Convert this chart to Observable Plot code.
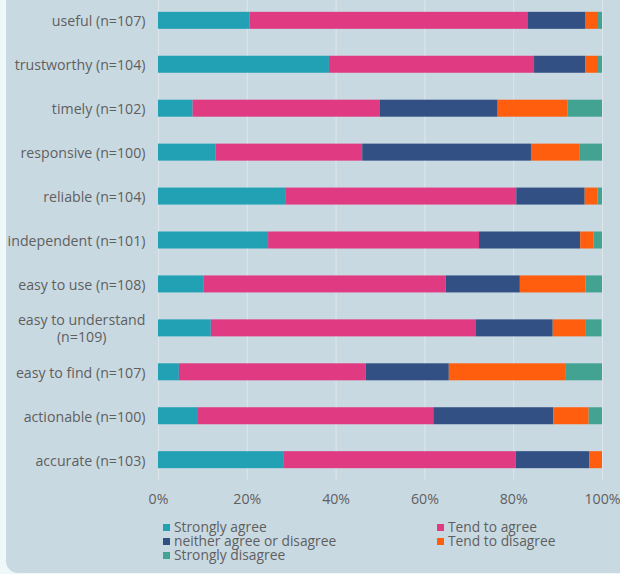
<!DOCTYPE html>
<html>
<head>
<meta charset="utf-8">
<script src="https://cdn.jsdelivr.net/npm/d3@7"></script>
<script src="https://cdn.jsdelivr.net/npm/@observablehq/plot@0.6"></script>
<style>
  html, body { margin: 0; padding: 0; }
  body { width: 620px; height: 574px; background: #eef8f8; position: relative; overflow: hidden; font-family: "Open Sans", sans-serif; }
  #panel { position: absolute; left: 6px; top: -20px; width: 650px; height: 593px; background: #c9d9e2; border-radius: 12px; }
  #chart { position: absolute; left: 0; top: 0; }
  #legend { position: absolute; left: 163px; top: 520px; display: grid; grid-template-columns: 274px 200px; font-size: 13.8px; line-height: 14.2px; color: #5f5f5f; }
  .item { display: flex; align-items: center; white-space: nowrap; height: 14.2px; }
  .sw { width: 7px; height: 7px; margin-right: 4px; display: inline-block; flex: none; }
</style>
</head>
<body>
<div id="panel"></div>
<div id="chart"></div>
<div id="legend"></div>
<script>
const categories = ["useful", "trustworthy", "timely", "responsive", "reliable", "independent", "easy to use", "easy to understand", "easy to find", "actionable", "accurate"];
const yLabels = ["useful (n=107)", "trustworthy (n=104)", "timely (n=102)", "responsive (n=100)", "reliable (n=104)", "independent (n=101)", "easy to use (n=108)", "easy to understand\n(n=109)", "easy to find (n=107)", "actionable (n=100)", "accurate (n=103)"];
const series = ["Strongly agree", "Tend to agree", "neither agree or disagree", "Tend to disagree", "Strongly disagree"];
const colors = ["#22a1b5", "#e03a82", "#325084", "#ff5e0f", "#43a393"];
const stronglyAgree = [20.6, 38.5, 7.8, 13, 28.8, 24.8, 10.2, 11.9, 4.7, 9, 28.2];
const tendToAgree = [62.6, 46.2, 42.2, 33, 51.9, 47.5, 54.6, 59.6, 42.1, 53, 52.4];
const neither = [13.1, 11.5, 26.5, 38, 15.4, 22.8, 16.7, 17.4, 18.7, 27, 16.5];
const tendToDisagree = [2.8, 2.9, 15.7, 11, 2.9, 3.0, 14.8, 7.3, 26.2, 8, 2.9];
const stronglyDisagree = [0.9, 1.0, 7.8, 5, 1.0, 2.0, 3.7, 3.7, 8.4, 3, 0];
const xTicks = [0, 20, 40, 60, 80, 100];

const valuesBySeries = [stronglyAgree, tendToAgree, neither, tendToDisagree, stronglyDisagree];
const rows = [];
categories.forEach((c, i) => {
  series.forEach((s, j) => rows.push({category: c, series: s, value: valuesBySeries[j][i]}));
});

const chart = Plot.plot({
  width: 620,
  height: 515,
  marginLeft: 158,
  marginRight: 18,
  marginTop: 0,
  marginBottom: 35,
  style: {background: "transparent", fontFamily: "'Open Sans', sans-serif", fontSize: "14.2px", color: "#5f5f5f", overflow: "visible"},
  x: {domain: [0, 100], clamp: true},
  y: {domain: categories, paddingInner: 0.613, paddingOuter: 0.269, round: false},
  color: {domain: series, range: colors},
  marks: [
    Plot.gridX(xTicks, {stroke: "#dfe6ea", strokeOpacity: 1, strokeWidth: 1}),
    Plot.barX(rows, Plot.stackX({x: "value", y: "category", fill: "series", order: null})),
    Plot.axisX({ticks: xTicks, tickFormat: d => d + "%", tickSize: 0, tickPadding: 13, fontSize: 14.2, label: null}),
    Plot.axisY({tickSize: 0, tickPadding: 13, fontSize: 14.2, label: null, lineHeight: 1.2,
      tickFormat: d => yLabels[categories.indexOf(d)]})
  ]
});
document.getElementById("chart").append(chart);

// center multi-line tick labels on their own block, keeping it right-aligned
chart.querySelectorAll("text").forEach(t => {
  const spans = t.querySelectorAll("tspan");
  if (spans.length > 1) {
    const b = t.getBBox();
    t.setAttribute("text-anchor", "middle");
    spans.forEach(sp => sp.setAttribute("x", b.x + b.width / 2));
  }
});

const legend = document.getElementById("legend");
series.forEach((s, i) => {
  const it = document.createElement("div");
  it.className = "item";
  const sw = document.createElement("span");
  sw.className = "sw";
  sw.style.background = colors[i];
  it.append(sw, document.createTextNode(s));
  legend.append(it);
});
</script>
</body>
</html>
